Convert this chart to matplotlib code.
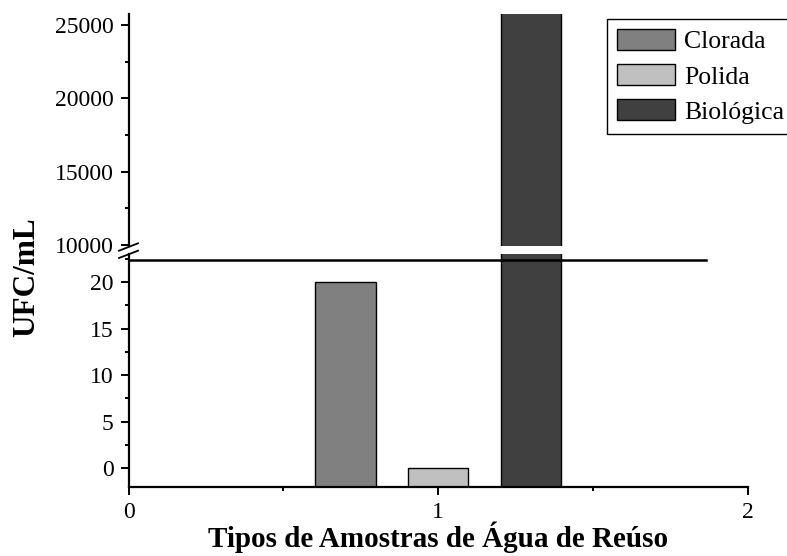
import numpy as np
import matplotlib
matplotlib.use("Agg")
import matplotlib.pyplot as plt
from matplotlib.ticker import MultipleLocator

plt.rcParams['font.family'] = ['Liberation Serif', 'DejaVu Serif']

# dados (UFC/mL por tipo de amostra)
amostras = ['Clorada', 'Polida', 'Biológica']
ufc = [20, 0, 26000]
grupo_x = 1  # todas as amostras no mesmo grupo do eixo x

cores = ['#808080', '#c0c0c0', '#404040']
larg = 0.195
passo = 0.3

fig = plt.figure(figsize=(7.87, 5.56), dpi=100)
W, H = 787, 556
x0, x1 = 128.5, 748
ax_top = fig.add_axes([x0 / W, 1 - 245.7 / H, (x1 - x0) / W, (245.7 - 14) / H])
ax_bot = fig.add_axes([x0 / W, 1 - 487 / H, (x1 - x0) / W, (487 - 254) / H])

handles = []
for i, (nome, v, c) in enumerate(zip(amostras, ufc, cores)):
    pos = grupo_x + (i - 1) * passo
    for ax in (ax_top, ax_bot):
        b = ax.bar(pos, v + 2, bottom=-2, width=larg, color=c,
                   edgecolor='black', linewidth=1.0, label=nome)
    handles.append(b)

ax_bot.set_ylim(-2, 23)
ax_top.set_ylim(9950, 25750)
for ax in (ax_top, ax_bot):
    ax.set_xlim(0, 2)
    ax.spines['top'].set_visible(False)
    ax.spines['right'].set_visible(False)
    ax.spines['left'].set_linewidth(1.6)
    ax.spines['bottom'].set_linewidth(1.6)
    ax.tick_params(which='major', direction='out', length=5.8, width=1.4,
                   labelsize=17, pad=5)
    ax.tick_params(which='minor', direction='out', length=3, width=1.4)

ax_top.spines['bottom'].set_visible(False)
ax_top.tick_params(axis='x', which='both', bottom=False, labelbottom=False)
ax_top.yaxis.set_major_locator(MultipleLocator(5000))
ax_top.yaxis.set_minor_locator(MultipleLocator(2500))

ax_bot.yaxis.set_major_locator(MultipleLocator(5))
ax_bot.yaxis.set_minor_locator(MultipleLocator(2.5))
ax_bot.xaxis.set_major_locator(MultipleLocator(1))
ax_bot.xaxis.set_minor_locator(MultipleLocator(0.5))

# linha horizontal da quebra (como no Origin)
ax_bot.plot([0, 1.864], [22.32, 22.32], color='black', lw=1.8, clip_on=False)

# marcas de quebra no eixo y
dx = 9.5 / (x1 - x0)
dy = 1 / 233
for ya, yb in ((-4, 3.3), (3.3, 10.7)):
    ax_bot.plot([-dx, dx], [1 + ya * dy, 1 + yb * dy],
                transform=ax_bot.transAxes, color='black', lw=1.3, clip_on=False)

ax_bot.set_xlabel('Tipos de Amostras de Água de Reúso', fontsize=21,
                  fontweight='bold', labelpad=-1)
fig.text(27 / W, 1 - 277.5 / H, 'UFC/mL', rotation=90, fontsize=22.5,
         fontweight='bold', ha='center', va='center')

fig.legend(handles=handles, labels=amostras, loc='upper left',
           bbox_to_anchor=(606.7 / W, 1 - 19 / H), fontsize=18.5,
           frameon=True, fancybox=False, edgecolor='black', framealpha=1,
           handlelength=2.26, handleheight=0.86, handletextpad=0.36,
           labelspacing=0.42, borderpad=0.4, borderaxespad=0)

fig.savefig('out.png', dpi=100)
